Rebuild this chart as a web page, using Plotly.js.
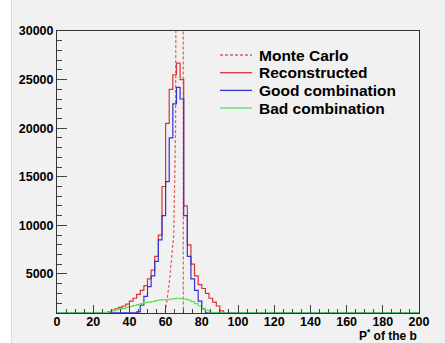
<!DOCTYPE html>
<html>
<head>
<meta charset="utf-8">
<script src="https://cdn.plot.ly/plotly-3.0.1.min.js"></script>
<style>
html, body { margin: 0; padding: 0; }
body { width: 445px; height: 343px; overflow: hidden;
  background: linear-gradient(to right, #ffffff 0px, #ffffff 11px, #dcdcdc 11px, #dcdcdc 12px, #f1f1f1 12px); }
#chart { width: 445px; height: 343px; }
</style>
</head>
<body>
<div id="chart"></div>
<script>
// ---- data ----
const seriesNames = ["Monte Carlo", "Reconstructed", "Good combination", "Bad combination"];
const binWidth = 2;
const xMin = 0, xMax = 200;

// Monte Carlo (polyline, off-scale peak)
const mcX = [59, 62, 64.5, 65.5, 66.5, 69.6, 69.8];
const mcY = [0, 4000, 9000, 20000, 80000, 80000, 0];

// Reconstructed histogram: first bin lower edge, then bin contents (width 2)
const recoStart = 26;
const recoValues = [900, 1100, 1250, 1400, 1550, 1700, 1900, 2200, 2500, 2900, 3300, 3800, 4500,
  5400, 6800, 9000, 14000, 20500, 24000, 25500, 26700, 25000, 12000, 8000, 6000, 4800, 3900,
  3500, 3000, 2500, 2100, 1700, 1200, 800, 500, 250];

const goodStart = 42;
const goodValues = [300, 1100, 1800, 2700, 3700, 4800, 6300, 8500, 11000, 14500, 19000, 22500,
  24200, 23000, 11000, 6800, 4500, 3300, 2200, 1400, 800];

const badStart = 24;
const badValues = [1000, 1050, 1100, 1200, 1300, 1400, 1450, 1550, 1650, 1750, 1850, 1950, 2050,
  2100, 2150, 2250, 2300, 2350, 2350, 2400, 2450, 2500, 2450, 2400, 2300, 2150, 1950, 1700,
  1450, 1250, 1050, 900];

const xTickVals = [0, 20, 40, 60, 80, 100, 120, 140, 160, 180, 200];
const xTickText = ["0", "20", "40", "60", "80", "100", "120", "140", "160", "180", "200"];
const yTickVals = [5000, 10000, 15000, 20000, 25000, 30000];
const yTickText = ["5000", "10000", "15000", "20000", "25000", "30000"];

// ---- helpers ----
const Y_AXIS_MIN = 980;
const Y_FLOOR = 1000; // values below the axis minimum are drawn on the frame, as ROOT does
const nBins = (xMax - xMin) / binWidth;
const edges = [];
for (let i = 0; i <= nBins; i++) edges.push(xMin + i * binWidth);

function stepTrace(start, values) {
  const full = new Array(nBins).fill(0);
  const first = Math.round((start - xMin) / binWidth);
  values.forEach((v, i) => { full[first + i] = v; });
  const y = full.map(v => Math.max(v, Y_FLOOR));
  y.push(y[y.length - 1]);
  return { x: edges.slice(), y: y };
}

const colors = {
  mc: "rgb(226,90,90)",
  reco: "rgb(222,50,50)",
  good: "rgb(50,50,215)",
  bad: "rgb(95,225,95)"
};

const reco = stepTrace(recoStart, recoValues);
const good = stepTrace(goodStart, goodValues);
const bad = stepTrace(badStart, badValues);

const traces = [
  { x: mcX, y: mcY, mode: "lines", name: seriesNames[0],
    line: { color: colors.mc, width: 1.2, dash: "3px,2px" } },
  { x: reco.x, y: reco.y, mode: "lines", name: seriesNames[1],
    line: { color: colors.reco, width: 1.2, shape: "hv" } },
  { x: good.x, y: good.y, mode: "lines", name: seriesNames[2],
    line: { color: colors.good, width: 1.2, shape: "hv" } },
  { x: bad.x, y: bad.y, mode: "lines", name: seriesNames[3],
    line: { color: colors.bad, width: 1.2, shape: "hv" } }
];

// ---- layout ----
const W = 445, H = 343;
const M = { l: 57, r: 26, t: 31, b: 30 };
const pw = W - M.l - M.r, ph = H - M.t - M.b;
const px2x = p => (p - M.l) / pw;
const py2y = p => (H - M.b - p) / ph;

const boldFont = { family: "Liberation Sans, Arial, sans-serif", color: "#000", weight: "bold" };

const legendColors = [colors.mc, colors.reco, colors.good, colors.bad];
const legendDash = ["3px,2px", "solid", "solid", "solid"];
const legendRows = [55, 72.7, 90.4, 108];

const annotations = [
  { text: "P<sup>*</sup> of the b", xref: "paper", yref: "paper",
    x: px2x(22), y: py2y(5), xanchor: "left", yanchor: "bottom", showarrow: false,
    font: Object.assign({}, boldFont, { size: 28 }) },
  { text: "P<sup>*</sup> of the b", xref: "paper", yref: "paper",
    x: 1, y: py2y(335), xanchor: "right", yanchor: "middle", showarrow: false,
    font: Object.assign({}, boldFont, { size: 12 }) }
];
const shapes = [];
seriesNames.forEach((name, i) => {
  annotations.push({ text: name, xref: "paper", yref: "paper",
    x: px2x(257), y: py2y(legendRows[i]), xanchor: "left", yanchor: "middle",
    showarrow: false, font: Object.assign({}, boldFont, { size: 15.5 }) });
  shapes.push({ type: "line", xref: "paper", yref: "paper",
    x0: px2x(220), x1: px2x(252), y0: py2y(legendRows[i]), y1: py2y(legendRows[i]),
    line: { color: legendColors[i], width: 1.3, dash: legendDash[i] } });
});

const axisCommon = {
  showline: true, linecolor: "#333", linewidth: 1, mirror: true,
  showgrid: false, zeroline: false, ticks: "inside", tickcolor: "#444",
  tickfont: Object.assign({}, boldFont, { size: 12.5 })
};

const layout = {
  width: W, height: H,
  margin: { l: M.l, r: M.r, t: M.t, b: M.b, pad: 0 },
  paper_bgcolor: "rgba(0,0,0,0)",
  plot_bgcolor: "#f1f1f1",
  showlegend: false,
  xaxis: Object.assign({}, axisCommon, {
    range: [xMin, xMax], tickmode: "array", tickvals: xTickVals, ticktext: xTickText,
    ticklen: 8, ticklabelstandoff: -3,
    minor: { dtick: 5, tick0: 0, ticks: "inside", ticklen: 4, tickcolor: "#444", showgrid: false }
  }),
  yaxis: Object.assign({}, axisCommon, {
    range: [Y_AXIS_MIN, 30000], tickmode: "array", tickvals: yTickVals, ticktext: yTickText,
    ticklen: 10,
    minor: { dtick: 1000, tick0: 0, ticks: "inside", ticklen: 5, tickcolor: "#444", showgrid: false }
  }),
  annotations: annotations,
  shapes: shapes
};

Plotly.newPlot("chart", traces, layout, { staticPlot: true, displayModeBar: false });
</script>
</body>
</html>
